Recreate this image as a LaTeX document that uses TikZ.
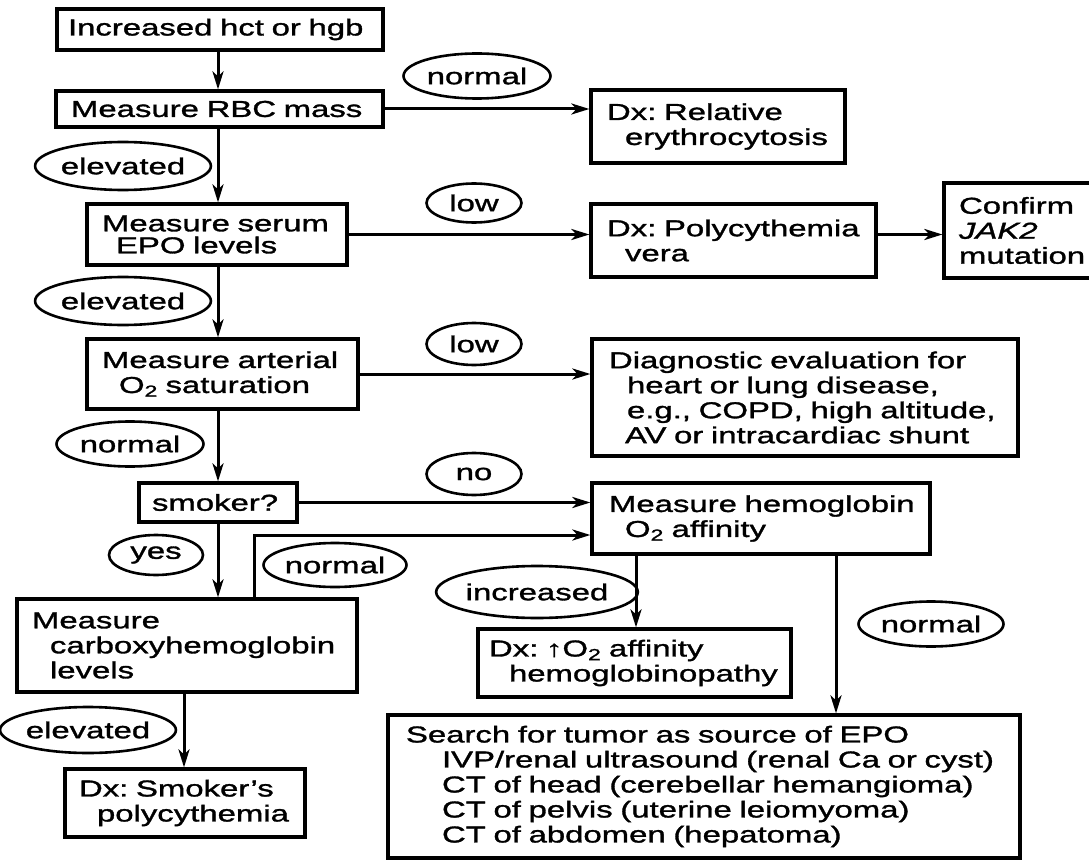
\documentclass[tikz,border=0pt]{standalone}
\usepackage{fontspec}
\setmainfont{Liberation Sans}[FakeStretch=1.43,FakeBold=1.4]
\usetikzlibrary{arrows.meta,shapes.geometric}
\frenchspacing
\begin{document}
\begin{tikzpicture}[x=1pt,y=-1pt,
  box/.style={draw, line width=3.2pt, rectangle, inner ysep=0pt, align=left, font=\fontsize{23}{25}\selectfont},
  lbl/.style={draw, ellipse, line width=2.6pt, inner sep=0pt, font=\fontsize{23}{25}\selectfont},
  arr/.style={line width=3pt, -{Stealth[length=18pt,width=11pt,inset=5pt]}}]
\clip (0,0) rectangle (1089,861);
\fill[white] (0,0) rectangle (1089,861);
% boxes
\node[box, minimum width=326pt, minimum height=41pt, inner xsep=11pt, text width=304pt] (b1) at (220,29.5) {\mbox{Increased hct or hgb}};
\node[box, minimum width=327pt, minimum height=36pt, inner xsep=15pt, text width=297pt] (b2) at (219.5,109) {\mbox{Measure RBC mass}};
\node[box, minimum width=254pt, minimum height=73pt, inner xsep=16pt, text width=222pt] (dxrel) at (718,126.5) {\mbox{Dx: Relative}\\\mbox{\hspace*{18pt}erythrocytosis}};
\node[box, minimum width=260pt, minimum height=61pt, inner xsep=15pt, text width=230pt, font=\fontsize{23}{22}\selectfont] (b3) at (217,234.5) {\mbox{Measure serum}\\\mbox{\hspace*{14pt}EPO levels}};
\node[box, minimum width=285pt, minimum height=73pt, inner xsep=16pt, text width=253pt] (dxpv) at (733.5,240.5) {\mbox{Dx: Polycythemia}\\\mbox{\hspace*{18pt}vera}};
\node[box, minimum width=160pt, minimum height=95pt, inner xsep=15pt, text width=130pt] (confirm) at (1024,230.5) {Confirm\\\textit{JAK2}\\mutation};
\node[box, minimum width=271pt, minimum height=70pt, inner xsep=15pt, text width=241pt] (b4) at (222.5,374) {\mbox{Measure arterial}\\\mbox{\hspace*{17pt}O\textsubscript{2} saturation}};
\node[box, minimum width=426pt, minimum height=117pt, inner xsep=17pt, text width=392pt] (diag) at (805,397.5) {\mbox{Diagnostic evaluation for}\\\mbox{\hspace*{18pt}heart or lung disease,}\\\mbox{\hspace*{18pt}e.g., COPD, high altitude,}\\\mbox{\hspace*{16pt}AV or intracardiac shunt}};
\node[box, minimum width=158pt, minimum height=39pt, inner xsep=13pt, text width=132pt] (smoker) at (218,502.5) {\mbox{smoker?}};
\node[box, minimum width=338pt, minimum height=71pt, inner xsep=17pt, text width=304pt] (hb) at (761,518.5) {\mbox{Measure hemoglobin}\\\mbox{\hspace*{16pt}O\textsubscript{2} affinity}};
\node[box, minimum width=340pt, minimum height=93pt, inner xsep=15pt, text width=310pt] (carboxy) at (187,645.5) {Measure\\\mbox{\hspace*{18pt}carboxyhemoglobin}\\\mbox{\hspace*{18pt}levels}};
\node[box, minimum width=313pt, minimum height=68pt, inner xsep=11pt, text width=291pt] (dxo2) at (634.5,663) {\mbox{Dx: {\bfseries↑}O\textsubscript{2} affinity}\\\mbox{\hspace*{20pt}hemoglobinopathy}};
\node[box, minimum width=240pt, minimum height=68pt, inner xsep=14pt, text width=212pt] (dxsmoker) at (185,803) {\mbox{Dx: Smoker’s}\\\mbox{\hspace*{18pt}polycythemia}};
\node[box, minimum width=632pt, minimum height=143pt, inner xsep=18pt, text width=596pt] (search) at (704,786.5) {\mbox{Search for tumor as source of EPO}\\\mbox{\hspace*{36pt}IVP/renal ultrasound (renal Ca or cyst)}\\\mbox{\hspace*{36pt}CT of head (cerebellar hemangioma)}\\\mbox{\hspace*{36pt}CT of pelvis (uterine leiomyoma)}\\\mbox{\hspace*{36pt}CT of abdomen (hepatoma)}};
% labels
\node[lbl, minimum width=147pt, minimum height=45pt] (l1) at (477,76) {normal};
\node[lbl, minimum width=161pt, minimum height=48pt] (l2) at (123,166) {elevated};
\node[lbl, minimum width=95pt, minimum height=39pt] (l3) at (474,203) {low};
\node[lbl, minimum width=162pt, minimum height=48pt] (l4) at (123,301) {elevated};
\node[lbl, minimum width=95pt, minimum height=42pt] (l5) at (474,344) {low};
\node[lbl, minimum width=147pt, minimum height=45pt] (l6) at (130,444) {normal};
\node[lbl, minimum width=95pt, minimum height=42pt] (l7) at (474,474) {no};
\node[lbl, minimum width=94pt, minimum height=40pt] (l8) at (156,555) {yes};
\node[lbl, minimum width=143pt, minimum height=44pt] (l9) at (335,565) {normal};
\node[lbl, minimum width=180pt, minimum height=52pt] (l10) at (537,592) {increased};
\node[lbl, minimum width=145pt, minimum height=45pt] (l11) at (931,624) {normal};
\node[lbl, minimum width=158pt, minimum height=46pt] (l12) at (88,730) {elevated};
% helper coordinates
\coordinate (spine) at (218,0);
\coordinate (col2) at (184,0);
\coordinate (c3) at (636,0);
\coordinate (c4) at (836,0);
\coordinate (bend) at (254,535);
% connectors
\draw[arr] (b1.south -| spine) -- (b2.north -| spine);
\draw[arr] (b2.south -| spine) -- (b3.north -| spine);
\draw[arr] (b3.south -| spine) -- (b4.north -| spine);
\draw[arr] (b4.south -| spine) -- (smoker.north -| spine);
\draw[arr] (smoker.south -| spine) -- (carboxy.north -| spine);
\draw[arr] (b2.east) -- (b2.east -| dxrel.west);
\draw[arr] (b3.east) -- (b3.east -| dxpv.west);
\draw[arr] (b3.east -| dxpv.east) -- (b3.east -| confirm.west);
\draw[arr] (b4.east) -- (b4.east -| diag.west);
\draw[arr] (smoker.east) -- (smoker.east -| hb.west);
\draw[arr] (carboxy.north -| bend) -- (bend) -- (bend -| hb.west);
\draw[arr] (carboxy.south -| col2) -- (dxsmoker.north -| col2);
\draw[arr] (hb.south -| c3) -- (dxo2.north -| c3);
\draw[arr] (hb.south -| c4) -- (search.north -| c4);
\end{tikzpicture}
\end{document}
